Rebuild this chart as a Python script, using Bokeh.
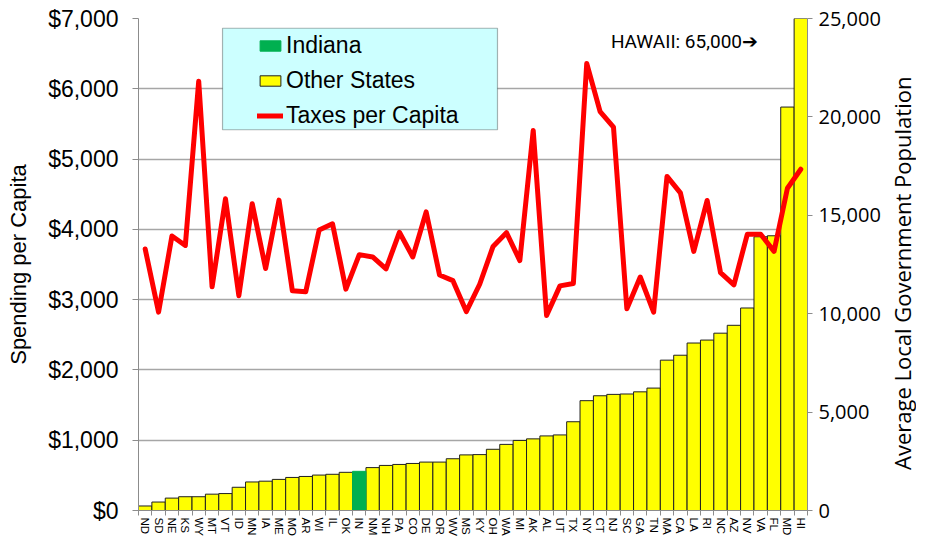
import math
from bokeh.plotting import figure
from bokeh.layouts import row
from bokeh.models import (ColumnDataSource, Range1d, LinearAxis, FixedTicker,
                          NumeralTickFormatter, Legend, LegendItem, BoxAnnotation, Label)
from bokeh.embed import file_html
from bokeh.resources import INLINE

states = ["ND","SD","NE","KS","WY","MT","VT","ID","MN","IA","ME","MO","AR","WI","IL","OK","IN",
          "NM","NH","PA","CO","DE","OR","WV","MS","KY","OH","WA","MI","AK","AL","UT","TX","NY",
          "CT","NJ","SC","GA","TN","MA","CA","LA","RI","NC","AZ","NV","VA","FL","MD","HI"]

population = [230, 430, 630, 700, 700, 830, 860, 1180, 1450, 1490, 1580, 1680, 1730, 1800, 1840,
              1940, 1990, 2180, 2290, 2340, 2390, 2460, 2460, 2630, 2825, 2840, 3110, 3360, 3560,
              3640, 3790, 3840, 4510, 5580, 5830, 5900, 5920, 6030, 6220, 7640, 7890, 8510, 8660,
              9010, 9410, 10290, 13910, 13960, 20500, 65000]

taxes = [3720, 2822, 3906, 3771, 6108, 3182, 4435, 3056, 4365, 3443, 4416, 3126, 3112, 3990, 4080,
         3149, 3640, 3607, 3439, 3958, 3607, 4248, 3350, 3270, 2830, 3219, 3757, 3953, 3556, 5407,
         2775, 3196, 3229, 6361, 5674, 5454, 2869, 3322, 2822, 4753, 4519, 3687, 4411, 3383, 3210,
         3930, 3930, 3687, 4585, 4855]

highlight = "IN"
spending_ticks = [0, 1000, 2000, 3000, 4000, 5000, 6000, 7000]
population_ticks = [0, 5000, 10000, 15000, 20000, 25000]
hawaii_note = "HAWAII: 65,000\u2794"
right_title = "Average Local  Government Population"

xs = list(range(1, len(states) + 1))
hl = [i for i, s in enumerate(states) if s == highlight]
ot = [i for i, s in enumerate(states) if s != highlight]
src_hl = ColumnDataSource(dict(x=[xs[i] for i in hl], top=[population[i] for i in hl]))
src_ot = ColumnDataSource(dict(x=[xs[i] for i in ot], top=[population[i] for i in ot]))
src_line = ColumnDataSource(dict(x=xs, y=taxes))

p = figure(width=886, height=539, output_backend="svg", toolbar_location=None,
           x_range=Range1d(0.5, len(states) + 0.5),
           y_range=Range1d(spending_ticks[0], spending_ticks[-1]),
           min_border_left=138, min_border_right=79, min_border_top=18, min_border_bottom=25)
p.extra_y_ranges = {"pop": Range1d(population_ticks[0], population_ticks[-1])}
p.outline_line_color = None
p.background_fill_color = "white"
p.border_fill_color = "white"

GRID = "#a6a6a6"
AXIS = "#8c8c8c"

# left axis
ya = p.yaxis[0]
ya.ticker = FixedTicker(ticks=spending_ticks)
ya.formatter = NumeralTickFormatter(format="$0,0")
ya.axis_label = "Spending per Capita"
ya.axis_label_text_font = "Liberation Sans"
ya.axis_label_text_font_size = "22px"
ya.axis_label_text_font_style = "normal"
ya.axis_label_text_color = "black"
ya.axis_label_standoff = 14
ya.major_label_text_font = "Liberation Sans"
ya.major_label_text_font_size = "23px"
ya.major_label_text_color = "black"
ya.major_label_standoff = 14
ya.axis_line_color = AXIS
ya.major_tick_line_color = AXIS
ya.major_tick_out = 6
ya.major_tick_in = 0
ya.minor_tick_line_color = None

# right axis
ra = LinearAxis(y_range_name="pop", ticker=FixedTicker(ticks=population_ticks),
                formatter=NumeralTickFormatter(format="0,0"))
ra.major_label_text_font = "Open Sans"
ra.major_label_text_font_size = "20px"
ra.major_label_text_color = "black"
ra.major_label_standoff = 6
ra.axis_line_color = AXIS
ra.major_tick_line_color = AXIS
ra.major_tick_out = 5
ra.major_tick_in = 0
ra.minor_tick_line_color = None
p.add_layout(ra, "right")

# x axis
xa = p.xaxis[0]
xa.ticker = FixedTicker(ticks=xs, minor_ticks=[x - 0.5 for x in xs] + [xs[-1] + 0.5])
xa.major_label_overrides = {x: s for x, s in zip(xs, states)}
xa.major_label_orientation = "vertical"
xa.major_label_text_font = "Liberation Sans"
xa.major_label_text_font_size = "11.5px"
xa.major_label_text_color = "black"
xa.major_label_standoff = 2
xa.major_tick_line_color = None
xa.major_tick_out = 0
xa.minor_tick_line_color = AXIS
xa.minor_tick_out = 5
xa.minor_tick_in = 0
xa.axis_line_color = AXIS

p.xgrid.grid_line_color = None
p.ygrid.grid_line_color = GRID
p.ygrid.grid_line_width = 1.5
p.ygrid.ticker = FixedTicker(ticks=spending_ticks)

r_ot = p.vbar(x="x", top="top", width=1.0, bottom=0, source=src_ot, y_range_name="pop",
              fill_color="#ffff00", line_color="#202020", line_width=1)
r_hl = p.vbar(x="x", top="top", width=1.0, bottom=0, source=src_hl, y_range_name="pop",
              fill_color="#00b050", line_color="#00b050", line_width=1)
r_line = p.line(x="x", y="y", source=src_line, line_color="#ff0000", line_width=5,
                line_join="round", line_cap="round")

box = BoxAnnotation(left=6.78, right=27.33, bottom=5417, top=6861,
                    fill_color="#ccffff", fill_alpha=1.0, line_color="black", line_width=1.2)
p.add_layout(box)

legend = Legend(items=[LegendItem(label="Indiana", renderers=[r_hl]),
                       LegendItem(label="Other States", renderers=[r_ot]),
                       LegendItem(label="Taxes per Capita", renderers=[r_line])],
                location=(119, 381), padding=0, spacing=8, glyph_width=26, glyph_height=13,
                label_standoff=3, label_text_font="Liberation Sans", label_text_font_size="23px",
                label_text_color="black", border_line_color=None, background_fill_alpha=0.0)
p.add_layout(legend, "center")

note = Label(x=46.8, y=6679, text=hawaii_note, text_align="right", text_baseline="middle",
             text_font="Roboto", text_font_size="19px", text_color="black")
p.add_layout(note)

# narrow side panel carrying the right-hand axis title (reads bottom-to-top)
p2 = figure(width=30, height=539, output_backend="svg", toolbar_location=None,
            x_range=Range1d(0, 1), y_range=Range1d(0, 1), min_border=0)
p2.axis.visible = False
p2.grid.grid_line_color = None
p2.outline_line_color = None
p2.add_layout(Label(x=0.5, y=0.488, text=right_title, angle=math.pi / 2, text_align="center",
                    text_baseline="middle", text_font="Open Sans", text_font_size="22px",
                    text_color="black"))

layout = row(p, p2, spacing=0)
open("out.html", "w").write(file_html(layout, INLINE))
